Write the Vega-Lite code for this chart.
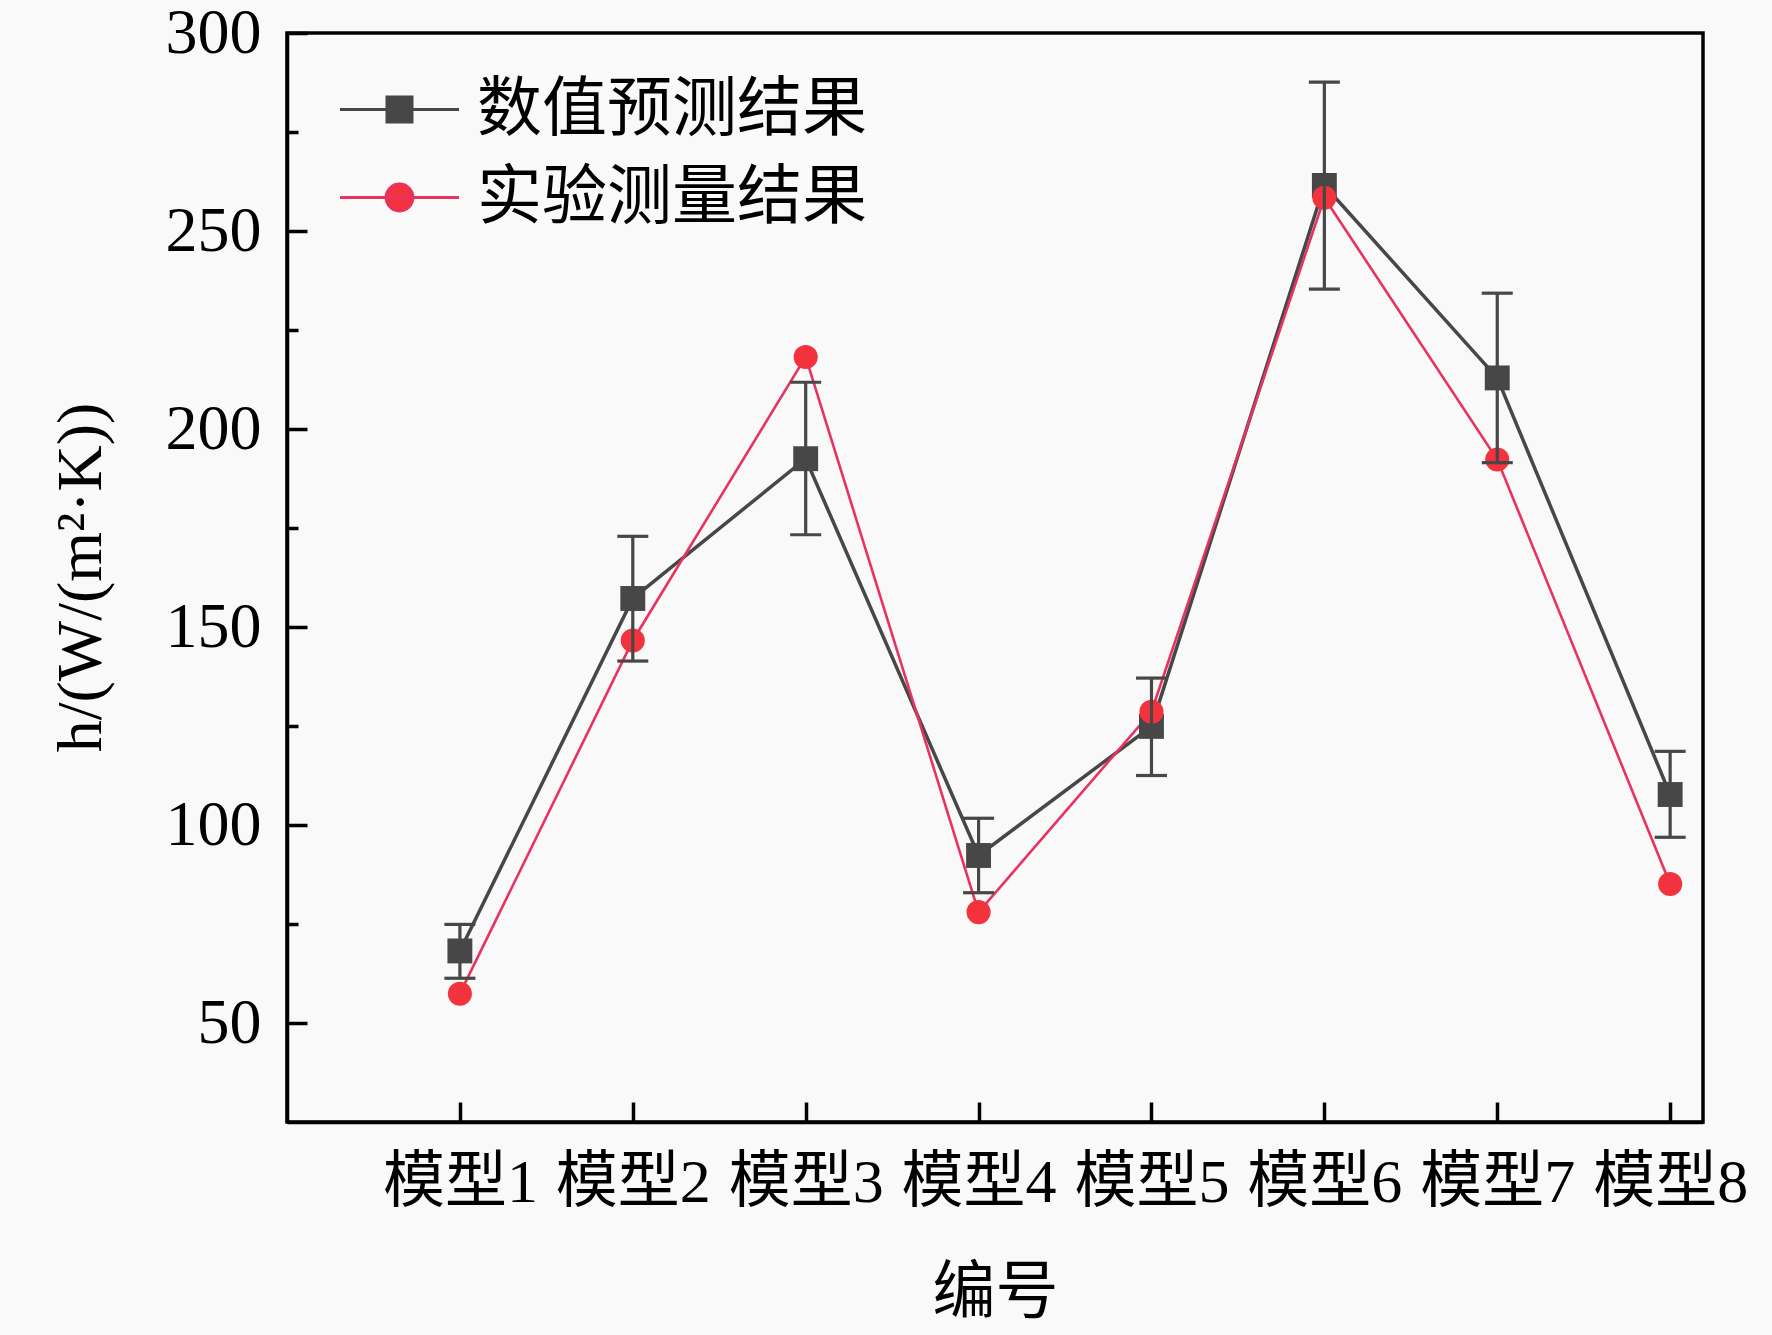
{
  "$schema": "https://vega.github.io/schema/vega-lite/v6.json",
  "description": "h values of eight models, numerical prediction vs experiment",
  "width": 1416,
  "height": 1089,
  "autosize": {"type": "none"},
  "padding": {"left": 287, "top": 33, "right": 69, "bottom": 213},
  "background": "#f9f9f9",
  "data": {
    "values": [
      {"model": 1, "series": "数值预测结果", "h": 68.2, "lo": 61.3, "hi": 74.9},
      {"model": 2, "series": "数值预测结果", "h": 157.2, "lo": 141.4, "hi": 172.9},
      {"model": 3, "series": "数值预测结果", "h": 192.5, "lo": 173.3, "hi": 211.8},
      {"model": 4, "series": "数值预测结果", "h": 92.3, "lo": 82.9, "hi": 101.7},
      {"model": 5, "series": "数值预测结果", "h": 124.9, "lo": 112.5, "hi": 137.1},
      {"model": 6, "series": "数值预测结果", "h": 261.5, "lo": 235.3, "hi": 287.6},
      {"model": 7, "series": "数值预测结果", "h": 212.9, "lo": 191.5, "hi": 234.3},
      {"model": 8, "series": "数值预测结果", "h": 107.7, "lo": 96.9, "hi": 118.6},
      {"model": 1, "series": "实验测量结果", "h": 57.4},
      {"model": 2, "series": "实验测量结果", "h": 146.6},
      {"model": 3, "series": "实验测量结果", "h": 218.2},
      {"model": 4, "series": "实验测量结果", "h": 78.0},
      {"model": 5, "series": "实验测量结果", "h": 128.6},
      {"model": 6, "series": "实验测量结果", "h": 258.4},
      {"model": 7, "series": "实验测量结果", "h": 192.3},
      {"model": 8, "series": "实验测量结果", "h": 85.1}
    ]
  },
  "encoding": {
    "x": {
      "field": "model",
      "type": "quantitative",
      "scale": {"domain": [0, 8.19], "nice": false, "zero": false},
      "axis": {
        "values": [1, 2, 3, 4, 5, 6, 7, 8],
        "labelExpr": "'模型' + datum.value",
        "title": "编号",
        "grid": false,
        "tickSize": -20,
        "labelPadding": 50,
        "titleY": 170,
        "titleBaseline": "middle"
      }
    },
    "y": {
      "field": "h",
      "type": "quantitative",
      "scale": {"domain": [25, 300], "nice": false, "zero": false},
      "axis": {
        "values": [50, 75, 100, 125, 150, 175, 200, 225, 250, 275, 300],
        "labelExpr": "datum.value % 50 === 0 ? datum.label : ''",
        "tickSize": {"condition": {"test": "datum.value % 50 === 0", "value": -20}, "value": -11},
        "title": "h/(W/(m²·K))",
        "grid": false,
        "labelPadding": 46,
        "titleX": -206,
        "titleY": 544,
        "titleAlign": "center",
        "titleBaseline": "middle"
      }
    }
  },
  "layer": [
    {
      "transform": [{"filter": "datum.series === '数值预测结果'"}],
      "mark": {"type": "line", "color": "#474747", "strokeWidth": 3.5},
      "encoding": {}
    },
    {
      "transform": [{"filter": "datum.series === '实验测量结果'"}],
      "mark": {"type": "line", "color": "#e8325f", "strokeWidth": 2.6},
      "encoding": {}
    },
    {
      "mark": {"type": "point", "filled": true, "opacity": 1, "size": 0},
      "encoding": {
        "fill": {
          "field": "series",
          "type": "nominal",
          "scale": {"domain": ["数值预测结果", "实验测量结果"], "range": ["#474747", "#f2323c"]},
          "legend": {
            "orient": "none",
            "legendX": 80,
            "legendY": 44,
            "title": null,
            "labelFont": "Noto Sans CJK SC",
            "labelFontSize": 65,
            "labelColor": "black",
            "labelLimit": 1000,
            "labelOffset": 45,
            "rowPadding": 22,
            "symbolSize": 3540,
            "symbolStrokeWidth": 3,
            "symbolOpacity": 1
          }
        },
        "stroke": {
          "field": "series",
          "type": "nominal",
          "scale": {"domain": ["数值预测结果", "实验测量结果"], "range": ["#474747", "#e8325f"]}
        },
        "shape": {
          "field": "series",
          "type": "nominal",
          "scale": {
            "domain": ["数值预测结果", "实验测量结果"],
            "range": ["M-2,0H2M-0.42,-0.42H0.42V0.42H-0.42Z", "M-2,0H2M0.45,0A0.45,0.45 0 1,1 -0.45,0A0.45,0.45 0 1,1 0.45,0Z"]
          }
        }
      }
    },
    {
      "transform": [{"filter": "datum.series === '数值预测结果'"}],
      "mark": {"type": "point", "shape": "square", "filled": true, "opacity": 1, "size": 620, "strokeWidth": 0},
      "encoding": {
        "fill": {"field": "series", "type": "nominal"}
      }
    },
    {
      "transform": [{"filter": "datum.series === '实验测量结果'"}],
      "mark": {"type": "point", "shape": "circle", "filled": true, "opacity": 1, "size": 580, "strokeWidth": 0},
      "encoding": {
        "fill": {"field": "series", "type": "nominal"}
      }
    },
    {
      "transform": [{"filter": "isValid(datum.lo)"}],
      "mark": {
        "type": "errorbar",
        "color": "#474747",
        "opacity": 1,
        "thickness": 3.2,
        "ticks": {"size": 31, "thickness": 3.2, "color": "#474747", "opacity": 1},
        "rule": {"opacity": 1, "color": "#474747", "strokeWidth": 3.2}
      },
      "encoding": {
        "y": {"field": "lo", "type": "quantitative"},
        "y2": {"field": "hi"}
      }
    }
  ],
  "config": {
    "view": {"stroke": "black", "strokeWidth": 3.5},
    "axis": {
      "domainColor": "black",
      "domainWidth": 3.5,
      "tickColor": "black",
      "tickWidth": 3.5,
      "labelColor": "black",
      "titleColor": "black",
      "labelFont": "Liberation Serif, Noto Sans CJK SC",
      "labelFontSize": 64,
      "titleFont": "Liberation Serif, Noto Sans CJK SC",
      "titleFontSize": 64,
      "titleFontWeight": "normal"
    },
    "axisX": {"labelFontSize": 62, "titleFontSize": 63}
  }
}
